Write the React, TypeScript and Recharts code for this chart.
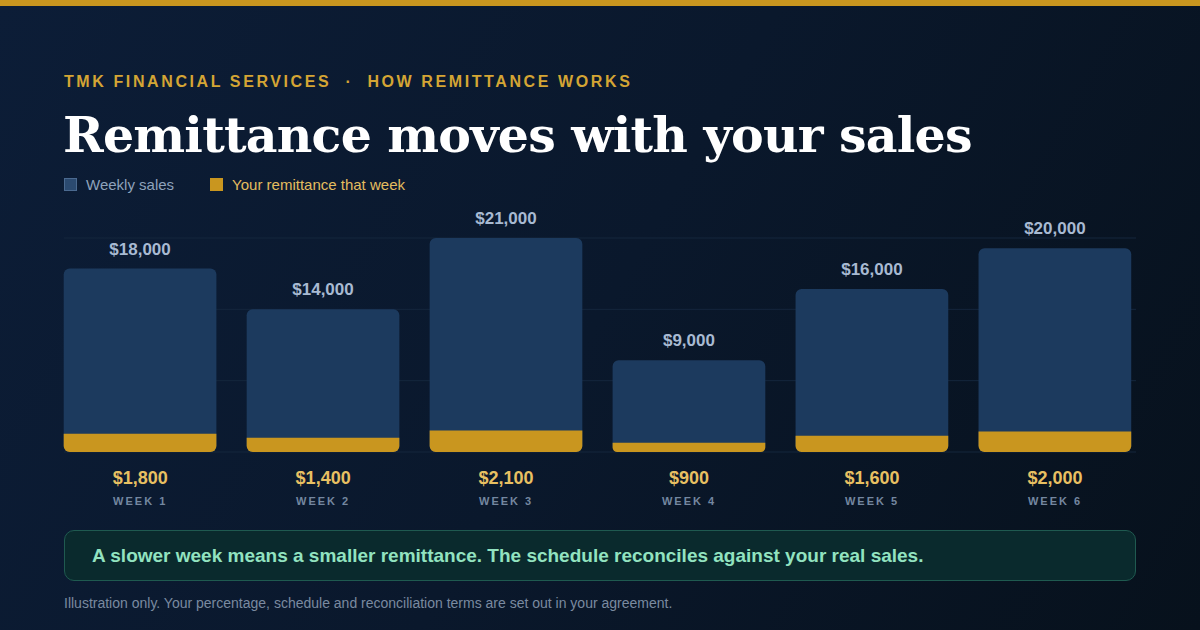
import React from 'react';
import {
  BarChart,
  Bar,
  XAxis,
  YAxis,
  CartesianGrid,
  LabelList,
} from 'recharts';

const WEEKS = ['WEEK 1', 'WEEK 2', 'WEEK 3', 'WEEK 4', 'WEEK 5', 'WEEK 6'];
const SALES = [18000, 14000, 21000, 9000, 16000, 20000];
const REMITTANCE = [1800, 1400, 2100, 900, 1600, 2000];
const Y_TICKS = [0, 7000, 14000, 21000];

const SANS = '"Liberation Sans", Arial, sans-serif';
const SERIF = '"DejaVu Serif", Georgia, serif';

const BLUE = '#1c3a5e';
const GOLD = '#c9961f';
const BAR_W = 152.7;

const chartData = WEEKS.map((week, i) => ({
  week,
  sales: SALES[i],
  remittance: REMITTANCE[i],
}));

const fmt = (v: number) => '$' + v.toLocaleString('en-US');

function WeekTick(props: any) {
  const { x, y, payload, index } = props;
  return (
    <g>
      <text
        x={x}
        y={y + 32}
        textAnchor="middle"
        fill="#e8c062"
        fontFamily={SANS}
        fontWeight={700}
        fontSize={18}
      >
        {fmt(REMITTANCE[index])}
      </text>
      <text
        x={x}
        y={y + 53}
        textAnchor="middle"
        fill="#7487a0"
        fontFamily={SANS}
        fontWeight={700}
        fontSize={11}
        letterSpacing={2}
      >
        {payload.value}
      </text>
    </g>
  );
}

export default function App() {
  return (
    <div
      style={{
        position: 'absolute',
        left: 0,
        top: 0,
        width: 1200,
        height: 630,
        overflow: 'hidden',
        background: 'linear-gradient(120deg, #0c1d37 0%, #0a182c 50%, #07111c 100%)',
        fontFamily: SANS,
      }}
    >
      {/* top accent */}
      <div style={{ position: 'absolute', left: 0, top: 0, width: 1200, height: 6, background: GOLD }} />

      <div
        style={{
          position: 'absolute',
          left: 64,
          top: 73,
          fontSize: 16,
          fontWeight: 700,
          letterSpacing: 2.6,
          color: '#d4a534',
          whiteSpace: 'nowrap',
        }}
      >
        TMK FINANCIAL SERVICES &nbsp;·&nbsp; HOW REMITTANCE WORKS
      </div>

      <div
        style={{
          position: 'absolute',
          left: 63,
          top: 103,
          fontFamily: SERIF,
          fontSize: 49,
          fontWeight: 700,
          letterSpacing: -0.8,
          color: '#ffffff',
          whiteSpace: 'nowrap',
          lineHeight: '64px',
        }}
      >
        Remittance moves with your sales
      </div>

      {/* legend */}
      <div style={{ position: 'absolute', left: 64, top: 176, display: 'flex', alignItems: 'center', fontSize: 15 }}>
        <div style={{ width: 11, height: 11, background: '#2b4a70', border: '1px solid #4b6a90' }} />
        <span style={{ marginLeft: 9, color: '#8ea2bb' }}>Weekly sales</span>
        <div style={{ width: 13, height: 13, background: GOLD, marginLeft: 36 }} />
        <span style={{ marginLeft: 9, color: '#e3bd5f' }}>Your remittance that week</span>
      </div>

      <div style={{ position: 'absolute', left: 0, top: 200 }}>
        <BarChart
          width={1200}
          height={320}
          data={chartData}
          margin={{ top: 38, right: 53.5, bottom: 8, left: 48.7 }}
          barSize={BAR_W}
          barGap={-BAR_W}
        >
          <CartesianGrid
            vertical={false}
            stroke="#15263d"
            strokeWidth={1}
            x={64}
            width={1072}
          />
          <YAxis hide domain={[0, 21000]} ticks={Y_TICKS} />
          <XAxis
            dataKey="week"
            axisLine={false}
            tickLine={false}
            tickSize={0}
            tickMargin={0}
            height={60}
            interval={0}
            tick={<WeekTick />}
          />
          <Bar dataKey="sales" fill={BLUE} radius={6} isAnimationActive={false}>
            <LabelList
              dataKey="sales"
              position="top"
              offset={14}
              formatter={(v: any) => fmt(Number(v))}
              fill="#a8bad2"
              fontFamily={SANS}
              fontWeight={700}
              fontSize={17}
            />
          </Bar>
          <Bar dataKey="remittance" fill={GOLD} radius={[0, 0, 6, 6]} isAnimationActive={false} />
        </BarChart>
      </div>

      {/* callout */}
      <div
        style={{
          position: 'absolute',
          left: 64,
          top: 530,
          width: 1070,
          height: 49,
          borderRadius: 10,
          border: '1px solid #1f5a50',
          background: '#0a2a2d',
          display: 'flex',
          alignItems: 'center',
          boxSizing: 'content-box',
        }}
      >
        <span style={{ marginLeft: 27, fontSize: 19, fontWeight: 700, color: '#92e3c0' }}>
          A slower week means a smaller remittance. The schedule reconciles against your real sales.
        </span>
      </div>

      <div style={{ position: 'absolute', left: 64, top: 595, fontSize: 14, color: '#7a8aa0' }}>
        Illustration only. Your percentage, schedule and reconciliation terms are set out in your agreement.
      </div>
    </div>
  );
}
